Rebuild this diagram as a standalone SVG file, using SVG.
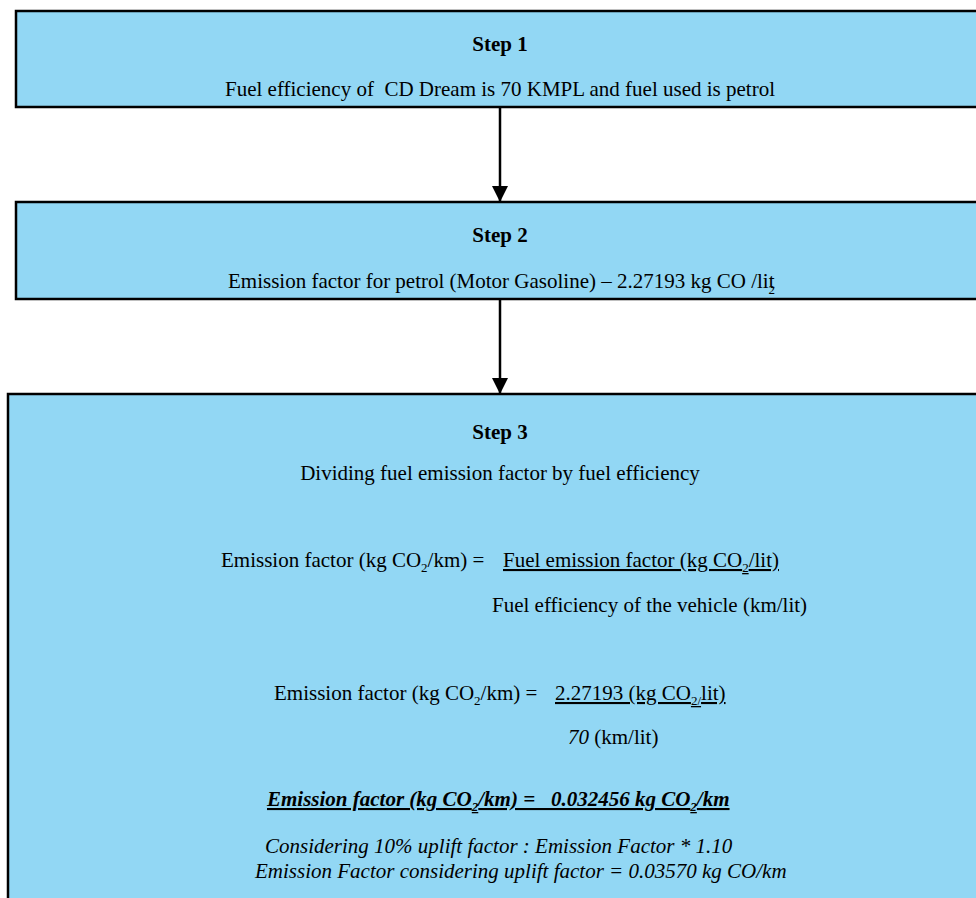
<svg xmlns="http://www.w3.org/2000/svg" width="976" height="898" viewBox="0 0 976 898">
<style>
.box{fill:#92d7f4;stroke:#000;stroke-width:2.5}
.t{font-family:"Liberation Serif","Times New Roman",serif;font-size:21px;fill:#000}
.b{font-weight:bold}
.i{font-style:italic}
.u{text-decoration:underline}
.c{text-anchor:middle}
.conn{stroke:#000;stroke-width:2.5;fill:none}
</style>
<defs>
<marker id="ah" markerWidth="16" markerHeight="16" refX="16" refY="8" orient="auto" markerUnits="userSpaceOnUse">
<path d="M0,0 L16,8 L0,16 Z" fill="#000"/>
</marker>
</defs>
<g id="step1">
<rect class="box" x="16" y="11" width="970" height="96"/>
<text class="t b c" x="500" y="51">Step 1</text>
<text class="t c" x="500" y="96" xml:space="preserve">Fuel efficiency of  CD Dream is 70 KMPL and fuel used is petrol</text>
</g>
<g id="step2">
<rect class="box" x="16" y="202" width="970" height="97"/>
<text class="t b c" x="500" y="242">Step 2</text>
<text class="t" x="228" y="288">Emission factor for petrol (Motor Gasoline) – 2.27193 kg CO /lit<tspan font-size="13" dx="-6" dy="6">2</tspan></text>
</g>
<g id="step3">
<rect class="box" x="8" y="394" width="980" height="520"/>
<text class="t b c" x="500" y="439">Step 3</text>
<text class="t c" x="500" y="480">Dividing fuel emission factor by fuel efficiency</text>
<text class="t" x="221" y="567">Emission factor (kg CO<tspan font-size="13" dy="5">2</tspan><tspan dy="-5">/km) = </tspan></text>
<text class="t u" x="503" y="567">Fuel emission factor (kg CO<tspan font-size="13" dy="5">2</tspan><tspan dy="-5">/lit)</tspan></text>
<text class="t" x="492" y="612">Fuel efficiency of the vehicle (km/lit)</text>
<text class="t" x="274" y="700">Emission factor (kg CO<tspan font-size="13" dy="5">2</tspan><tspan dy="-5">/km) = </tspan></text>
<text class="t u" x="555" y="700">2.27193 (kg CO<tspan font-size="13" dy="5">2/</tspan><tspan dy="-5">lit)</tspan></text>
<text class="t" x="568" y="744"><tspan class="i">70</tspan> (km/lit)</text>
<text class="t b i u" x="267" y="806" xml:space="preserve">Emission factor (kg CO<tspan font-size="13" dy="5">2</tspan><tspan dy="-5">/km) =   0.032456 kg CO</tspan><tspan font-size="13" dy="5">2</tspan><tspan dy="-5">/km</tspan></text>
<text class="t i" x="265" y="853">Considering 10% uplift factor : Emission Factor * 1.10</text>
<text class="t i" x="255" y="878">Emission Factor considering uplift factor = 0.03570 kg CO/km</text>
</g>
<g id="connectors">
<line class="conn" x1="500" y1="107" x2="500" y2="202" marker-end="url(#ah)"/>
<line class="conn" x1="500" y1="299" x2="500" y2="394" marker-end="url(#ah)"/>
</g>
</svg>
